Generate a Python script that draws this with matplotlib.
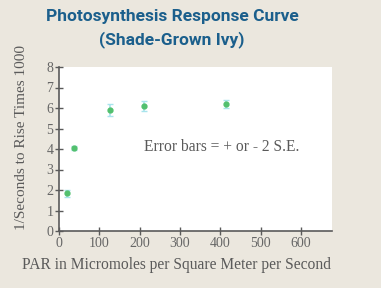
import matplotlib.pyplot as plt

par = [20, 37, 127, 211, 414]
rate = [1.85, 4.05, 5.9, 6.1, 6.2]
err = [0.17, 0.08, 0.3, 0.25, 0.2]

bg = '#ebe7de'
grey = '#5a5a5a'
plt.rcParams['font.family'] = ['Liberation Serif', 'DejaVu Serif']

fig = plt.figure(figsize=(3.81, 2.88), dpi=100, facecolor=bg)
ax = fig.add_axes([59/381, 1-231/288, (332-59)/381, (231-67)/288])
ax.set_facecolor('white')

ax.errorbar(par, rate, yerr=err, fmt='o', color='#52c06e', markersize=3.5,
            ecolor='#a8e4ec', elinewidth=1.2, capsize=2, capthick=1.0, zorder=3)

ax.set_xlim(0, 677)
ax.set_ylim(0, 8)
ax.set_xticks(range(0, 700, 100))
ax.set_yticks(range(0, 9))
for s in ['top', 'right']:
    ax.spines[s].set_visible(False)
for s in ['left', 'bottom']:
    ax.spines[s].set_color(grey)
    ax.spines[s].set_linewidth(1.2)
ax.tick_params(direction='inout', length=6, width=1, color=grey, labelcolor='#666666',
               labelsize=10, pad=1, labelfontfamily='Liberation Serif')

ax.text(211, 4.1, 'Error bars = + or - 2 S.E.', fontsize=11.2, color=grey, va='center')

fig.text(22/381, 1-137/288, '1/Seconds to Rise Times 1000', rotation=90,
         fontsize=11, color=grey, ha='center', va='center')
fig.text(176/381, 1-265/288, 'PAR in Micromoles per Square Meter per Second',
         fontsize=11.2, color=grey, ha='center', va='center')

fig.text(172/381, 1-17/288, 'Photosynthesis Response Curve',
         family=['Roboto', 'DejaVu Sans'], weight='bold', fontsize=12.5,
         color='#1b5f8c', ha='center', va='center')
fig.text(172/381, 1-40/288, '(Shade-Grown Ivy)',
         family=['Roboto', 'DejaVu Sans'], weight='bold', fontsize=12.5,
         color='#1b5f8c', ha='center', va='center')

fig.savefig('out.png', dpi=100, facecolor=bg)
